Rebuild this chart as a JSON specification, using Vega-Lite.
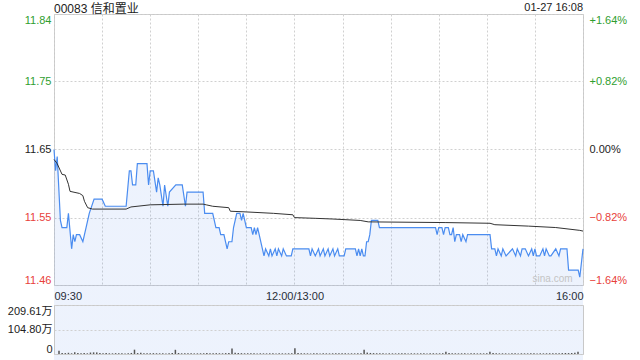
{
  "$schema": "https://vega.github.io/schema/vega-lite/v6.json",
  "padding": {"left": 6, "top": 1, "right": 4, "bottom": 7},
  "autosize": {"type": "pad"},
  "bounds": "flush",
  "spacing": 20,
  "config": {
    "font": "Liberation Sans",
    "view": {"stroke": "#c8c8c8"},
    "axis": {"domain": false, "ticks": false, "labelFontSize": 11, "labelFont": "Liberation Sans, Noto Sans CJK SC", "gridColor": "#d0d0d0", "gridDash": [2, 2], "gridWidth": 1}
  },
  "datasets": {
    "price": [
      {"m":0,"p":11.65},{"m":1,"p":11.62},{"m":2,"p":11.64},{"m":4,"p":11.55},{"m":5,"p":11.54},{"m":8,"p":11.54},{"m":9,"p":11.56},{"m":11,"p":11.51},{"m":12,"p":11.53},{"m":13,"p":11.52},{"m":14,"p":11.53},{"m":16,"p":11.53},{"m":18,"p":11.52},{"m":19,"p":11.53},{"m":20,"p":11.54},{"m":22,"p":11.56},{"m":25,"p":11.58},{"m":30,"p":11.58},{"m":32,"p":11.57},{"m":45,"p":11.57},{"m":47,"p":11.62},{"m":48,"p":11.62},{"m":49,"p":11.60},{"m":51,"p":11.60},{"m":52,"p":11.63},{"m":58,"p":11.63},{"m":59,"p":11.60},{"m":60,"p":11.62},{"m":62,"p":11.62},{"m":64,"p":11.59},{"m":65,"p":11.61},{"m":66,"p":11.60},{"m":68,"p":11.57},{"m":69,"p":11.60},{"m":71,"p":11.57},{"m":72,"p":11.59},{"m":76,"p":11.60},{"m":80,"p":11.60},{"m":82,"p":11.57},{"m":83,"p":11.59},{"m":93,"p":11.59},{"m":94,"p":11.56},{"m":99,"p":11.56},{"m":101,"p":11.54},{"m":103,"p":11.54},{"m":104,"p":11.53},{"m":106,"p":11.53},{"m":108,"p":11.51},{"m":109,"p":11.52},{"m":111,"p":11.52},{"m":112,"p":11.54},{"m":114,"p":11.56},{"m":116,"p":11.56},{"m":117,"p":11.55},{"m":118,"p":11.56},{"m":120,"p":11.54},{"m":123,"p":11.54},{"m":124,"p":11.53},{"m":125,"p":11.54},{"m":126,"p":11.53},{"m":127,"p":11.54},{"m":128,"p":11.53},{"m":130,"p":11.51},{"m":131,"p":11.50},{"m":132,"p":11.51},{"m":134,"p":11.50},{"m":135,"p":11.51},{"m":136,"p":11.50},{"m":138,"p":11.51},{"m":139,"p":11.50},{"m":140,"p":11.51},{"m":142,"p":11.50},{"m":143,"p":11.51},{"m":145,"p":11.50},{"m":148,"p":11.50},{"m":149,"p":11.51},{"m":159,"p":11.51},{"m":160,"p":11.50},{"m":161,"p":11.51},{"m":163,"p":11.50},{"m":165,"p":11.51},{"m":166,"p":11.50},{"m":168,"p":11.51},{"m":169,"p":11.50},{"m":171,"p":11.51},{"m":172,"p":11.50},{"m":174,"p":11.51},{"m":175,"p":11.50},{"m":177,"p":11.51},{"m":178,"p":11.50},{"m":181,"p":11.50},{"m":182,"p":11.51},{"m":188,"p":11.51},{"m":189,"p":11.50},{"m":190,"p":11.51},{"m":191,"p":11.50},{"m":192,"p":11.51},{"m":193,"p":11.50},{"m":194,"p":11.50},{"m":195,"p":11.52},{"m":196,"p":11.52},{"m":197,"p":11.53},{"m":198,"p":11.55},{"m":202,"p":11.55},{"m":203,"p":11.54},{"m":238,"p":11.54},{"m":239,"p":11.53},{"m":240,"p":11.54},{"m":242,"p":11.54},{"m":243,"p":11.53},{"m":244,"p":11.54},{"m":246,"p":11.54},{"m":247,"p":11.53},{"m":248,"p":11.53},{"m":249,"p":11.54},{"m":250,"p":11.52},{"m":251,"p":11.53},{"m":253,"p":11.53},{"m":254,"p":11.52},{"m":255,"p":11.53},{"m":257,"p":11.52},{"m":258,"p":11.53},{"m":272,"p":11.53},{"m":273,"p":11.51},{"m":275,"p":11.51},{"m":276,"p":11.50},{"m":277,"p":11.51},{"m":279,"p":11.50},{"m":280,"p":11.51},{"m":282,"p":11.50},{"m":286,"p":11.51},{"m":288,"p":11.50},{"m":289,"p":11.51},{"m":291,"p":11.50},{"m":292,"p":11.51},{"m":294,"p":11.51},{"m":296,"p":11.50},{"m":298,"p":11.51},{"m":299,"p":11.50},{"m":300,"p":11.51},{"m":301,"p":11.50},{"m":303,"p":11.50},{"m":305,"p":11.51},{"m":306,"p":11.50},{"m":307,"p":11.51},{"m":309,"p":11.50},{"m":310,"p":11.50},{"m":313,"p":11.51},{"m":315,"p":11.50},{"m":316,"p":11.51},{"m":320,"p":11.51},{"m":321,"p":11.48},{"m":327,"p":11.48},{"m":328,"p":11.47},{"m":330,"p":11.51}
    ],
    "avg": [
      {"m":0,"a":11.636},{"m":2,"a":11.630},{"m":5,"a":11.615},{"m":7,"a":11.614},{"m":9,"a":11.601},{"m":10,"a":11.591},{"m":16,"a":11.588},{"m":18,"a":11.585},{"m":19,"a":11.577},{"m":21,"a":11.568},{"m":24,"a":11.566},{"m":45,"a":11.566},{"m":48,"a":11.569},{"m":60,"a":11.572},{"m":81,"a":11.573},{"m":93,"a":11.573},{"m":95,"a":11.572},{"m":99,"a":11.570},{"m":109,"a":11.568},{"m":110,"a":11.563},{"m":120,"a":11.562},{"m":137,"a":11.560},{"m":149,"a":11.558},{"m":150,"a":11.554},{"m":163,"a":11.553},{"m":174,"a":11.552},{"m":191,"a":11.550},{"m":196,"a":11.548},{"m":244,"a":11.547},{"m":272,"a":11.546},{"m":275,"a":11.544},{"m":296,"a":11.542},{"m":313,"a":11.540},{"m":328,"a":11.536},{"m":330,"a":11.535}
    ],
    "vol": [
      {"m":0,"v":140000},{"m":2,"v":45000},{"m":4,"v":38000},{"m":6,"v":52000},{"m":8,"v":30000},{"m":10,"v":75000},{"m":12,"v":40000},{"m":14,"v":35000},{"m":16,"v":48000},{"m":18,"v":30000},{"m":20,"v":62000},{"m":22,"v":70000},{"m":24,"v":68000},{"m":26,"v":40000},{"m":28,"v":35000},{"m":30,"v":42000},{"m":32,"v":30000},{"m":34,"v":28000},{"m":36,"v":36000},{"m":38,"v":30000},{"m":40,"v":32000},{"m":42,"v":26000},{"m":44,"v":30000},{"m":46,"v":45000},{"m":48,"v":185000},{"m":50,"v":40000},{"m":52,"v":50000},{"m":54,"v":35000},{"m":56,"v":30000},{"m":58,"v":28000},{"m":60,"v":36000},{"m":62,"v":32000},{"m":64,"v":30000},{"m":66,"v":28000},{"m":68,"v":26000},{"m":70,"v":30000},{"m":72,"v":38000},{"m":74,"v":180000},{"m":76,"v":42000},{"m":78,"v":30000},{"m":80,"v":28000},{"m":82,"v":35000},{"m":84,"v":30000},{"m":86,"v":26000},{"m":88,"v":28000},{"m":90,"v":30000},{"m":92,"v":32000},{"m":94,"v":40000},{"m":96,"v":30000},{"m":98,"v":28000},{"m":100,"v":36000},{"m":102,"v":32000},{"m":104,"v":30000},{"m":106,"v":38000},{"m":108,"v":45000},{"m":110,"v":230000},{"m":112,"v":50000},{"m":114,"v":42000},{"m":116,"v":36000},{"m":118,"v":30000},{"m":120,"v":32000},{"m":122,"v":28000},{"m":124,"v":30000},{"m":126,"v":26000},{"m":128,"v":30000},{"m":130,"v":28000},{"m":132,"v":26000},{"m":134,"v":30000},{"m":136,"v":28000},{"m":138,"v":25000},{"m":140,"v":30000},{"m":142,"v":28000},{"m":144,"v":26000},{"m":146,"v":30000},{"m":148,"v":28000},{"m":150,"v":245000},{"m":152,"v":40000},{"m":154,"v":32000},{"m":156,"v":30000},{"m":158,"v":28000},{"m":160,"v":26000},{"m":162,"v":30000},{"m":164,"v":28000},{"m":166,"v":26000},{"m":168,"v":30000},{"m":170,"v":28000},{"m":172,"v":26000},{"m":174,"v":30000},{"m":176,"v":28000},{"m":178,"v":27000},{"m":180,"v":30000},{"m":182,"v":28000},{"m":184,"v":26000},{"m":186,"v":30000},{"m":188,"v":28000},{"m":190,"v":32000},{"m":192,"v":35000},{"m":194,"v":185000},{"m":196,"v":60000},{"m":198,"v":45000},{"m":200,"v":38000},{"m":202,"v":32000},{"m":204,"v":30000},{"m":206,"v":28000},{"m":208,"v":26000},{"m":210,"v":30000},{"m":212,"v":28000},{"m":214,"v":26000},{"m":216,"v":30000},{"m":218,"v":28000},{"m":220,"v":27000},{"m":222,"v":26000},{"m":224,"v":30000},{"m":226,"v":28000},{"m":228,"v":26000},{"m":230,"v":30000},{"m":232,"v":28000},{"m":234,"v":26000},{"m":236,"v":30000},{"m":238,"v":32000},{"m":240,"v":28000},{"m":242,"v":30000},{"m":244,"v":34000},{"m":246,"v":100000},{"m":248,"v":40000},{"m":250,"v":32000},{"m":252,"v":30000},{"m":254,"v":28000},{"m":256,"v":30000},{"m":258,"v":28000},{"m":260,"v":26000},{"m":262,"v":30000},{"m":264,"v":28000},{"m":266,"v":26000},{"m":268,"v":30000},{"m":270,"v":28000},{"m":272,"v":36000},{"m":274,"v":95000},{"m":276,"v":40000},{"m":278,"v":32000},{"m":280,"v":28000},{"m":282,"v":30000},{"m":284,"v":28000},{"m":286,"v":26000},{"m":288,"v":30000},{"m":290,"v":28000},{"m":292,"v":26000},{"m":294,"v":30000},{"m":296,"v":28000},{"m":298,"v":27000},{"m":300,"v":30000},{"m":302,"v":28000},{"m":304,"v":26000},{"m":306,"v":30000},{"m":308,"v":28000},{"m":310,"v":30000},{"m":312,"v":32000},{"m":314,"v":28000},{"m":316,"v":30000},{"m":318,"v":34000},{"m":320,"v":38000},{"m":322,"v":45000},{"m":324,"v":40000},{"m":326,"v":42000},{"m":328,"v":50000},{"m":330,"v":100000}
    ],
    "dateLabel": [
      {"m":330,"p":11.841,"t":"01-27 16:08"}
    ],
    "titleLabel": [
      {"m":0,"p":11.841,"t":"00083 信和置业"}
    ],
    "mark": [
      {"m":311,"p":11.467,"t":"sina.com"}
    ]
  },
  "vconcat": [
    {
      "width": 529,
      "height": 271,
      "encoding": {
        "x": {"field": "m", "type": "quantitative", "scale": {"domain": [0, 330], "nice": false, "zero": false},
          "axis": {"title": null, "values": [0,30,60,90,120,150,180,210,240,270,300,330], "grid": true, "labelFlush": true, "labelOverlap": false, "labelPadding": 5, "labelColor": "#222222",
            "labelExpr": "datum.value == 0 ? '09:30' : datum.value == 150 ? '12:00/13:00' : datum.value == 330 ? '16:00' : ''"}}
      },
      "layer": [
        {
          "data": {"name": "price"},
          "mark": {"type": "area", "line": false, "fill": {"gradient": "linear", "x1": 0, "y1": 0, "x2": 0, "y2": 1, "stops": [{"offset": 0, "color": "rgba(90,140,235,0.11)"}, {"offset": 1, "color": "rgba(90,140,235,0.02)"}]}},
          "encoding": {
            "y": {"field": "p", "type": "quantitative", "scale": {"domain": [11.459, 11.841], "nice": false, "zero": false},
              "axis": {"title": null, "orient": "left", "values": [11.459, 11.554, 11.65, 11.746, 11.841], "grid": true, "labelFlush": true, "labelPadding": 3,
                "labelExpr": "format(datum.value, '.2f')",
                "labelColor": {"condition": [{"test": "datum.value > 11.66", "value": "#2f9e2f"}, {"test": "datum.value < 11.64", "value": "#e8413b"}], "value": "#222222"}}}
          }
        },
        {
          "data": {"name": "mark"},
          "mark": {"type": "text", "fontSize": 10, "color": "#c4c4c4", "align": "center", "baseline": "middle"},
          "encoding": {
            "y": {"field": "p", "type": "quantitative", "scale": {"domain": [11.459, 11.841], "nice": false, "zero": false}, "axis": null},
            "text": {"field": "t"}
          }
        },
        {
          "data": {"name": "price"},
          "mark": {"type": "line", "color": "#4a8cf0", "strokeWidth": 1.2},
          "encoding": {
            "y": {"field": "p", "type": "quantitative", "scale": {"domain": [11.459, 11.841], "nice": false, "zero": false}, "axis": null}
          }
        },
        {
          "data": {"name": "avg"},
          "mark": {"type": "line", "color": "#333333", "strokeWidth": 1},
          "encoding": {
            "y": {"field": "a", "type": "quantitative", "scale": {"domain": [11.459, 11.841], "nice": false, "zero": false},
              "axis": {"title": null, "orient": "right", "values": [11.459, 11.554, 11.65, 11.746, 11.841], "grid": false, "labelFlush": true, "labelPadding": 6,
                "labelExpr": "(datum.value > 11.66 ? '+' : '') + format((datum.value / 11.65 - 1) * 100, '.2f') + '%'",
                "labelColor": {"condition": [{"test": "datum.value > 11.66", "value": "#2f9e2f"}, {"test": "datum.value < 11.64", "value": "#e8413b"}], "value": "#222222"}}}
          }
        },
        {
          "data": {"name": "dateLabel"},
          "mark": {"type": "text", "fontSize": 11, "color": "#222222", "align": "right", "baseline": "alphabetic", "dy": -3},
          "encoding": {
            "y": {"field": "p", "type": "quantitative", "scale": {"domain": [11.459, 11.841], "nice": false, "zero": false}, "axis": null},
            "text": {"field": "t"}
          }
        },
        {
          "data": {"name": "titleLabel"},
          "mark": {"type": "text", "fontSize": 12, "font": "Liberation Sans, Noto Sans CJK SC", "color": "#222222", "align": "left", "baseline": "alphabetic", "dy": -1},
          "encoding": {
            "y": {"field": "p", "type": "quantitative", "scale": {"domain": [11.459, 11.841], "nice": false, "zero": false}, "axis": null},
            "text": {"field": "t"}
          }
        }
      ],
      "resolve": {"axis": {"y": "independent"}}
    },
    {
      "width": 529,
      "height": 49,
      "data": {"name": "vol"},
      "mark": {"type": "bar", "size": 1.5, "color": "#555555"},
      "encoding": {
        "x": {"field": "m", "type": "quantitative", "scale": {"domain": [0, 330], "nice": false, "zero": false}, "axis": null},
        "y": {"field": "v", "type": "quantitative", "scale": {"domain": [0, 2096100], "nice": false},
          "axis": {"title": null, "values": [0, 1048000, 2096100], "grid": true, "labelFlush": true, "labelPadding": 2, "labelColor": "#222222",
            "labelExpr": "datum.value == 0 ? '0' : format(datum.value / 10000, '.2f') + '万'"}}
      }
    }
  ]
}
